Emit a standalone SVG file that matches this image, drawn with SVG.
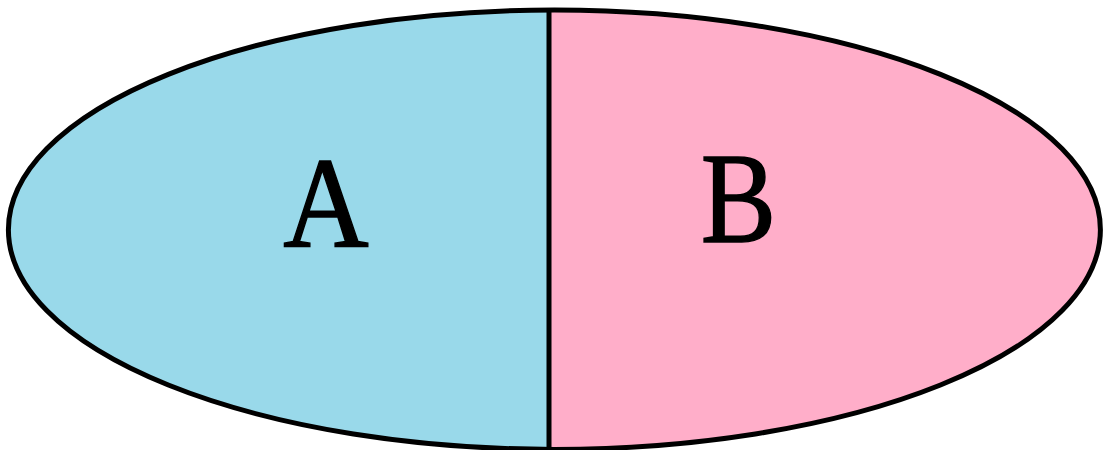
<svg xmlns="http://www.w3.org/2000/svg" width="1107" height="450" viewBox="0 0 1107 450">
<style>
.lbl{font-family:"Liberation Serif","DejaVu Serif",serif;font-size:130px;fill:#000;stroke:#000;stroke-width:1.5;text-anchor:middle}
.edge{fill:none;stroke:#000;stroke-width:5}
</style>
<defs>
<clipPath id="cl"><rect x="0" y="0" width="549" height="450"/></clipPath>
<clipPath id="cr"><rect x="549" y="0" width="558" height="450"/></clipPath>
</defs>
<rect width="1107" height="450" fill="#fff"/>
<g id="A">
<ellipse cx="554.4" cy="229.7" rx="546" ry="219.7" fill="#99D9EA" clip-path="url(#cl)"/>
<text class="lbl" transform="translate(326,247) scale(0.91,1)">A</text>
</g>
<g id="B">
<ellipse cx="554.4" cy="229.7" rx="546" ry="219.7" fill="#FFAEC9" clip-path="url(#cr)"/>
<text class="lbl" transform="translate(738.5,241.5) scale(0.87,1)">B</text>
</g>
<g id="connectors">
<ellipse class="edge" cx="554.4" cy="229.7" rx="546" ry="219.7"/>
<line class="edge" x1="549" y1="8" x2="549" y2="452"/>
</g>
</svg>
